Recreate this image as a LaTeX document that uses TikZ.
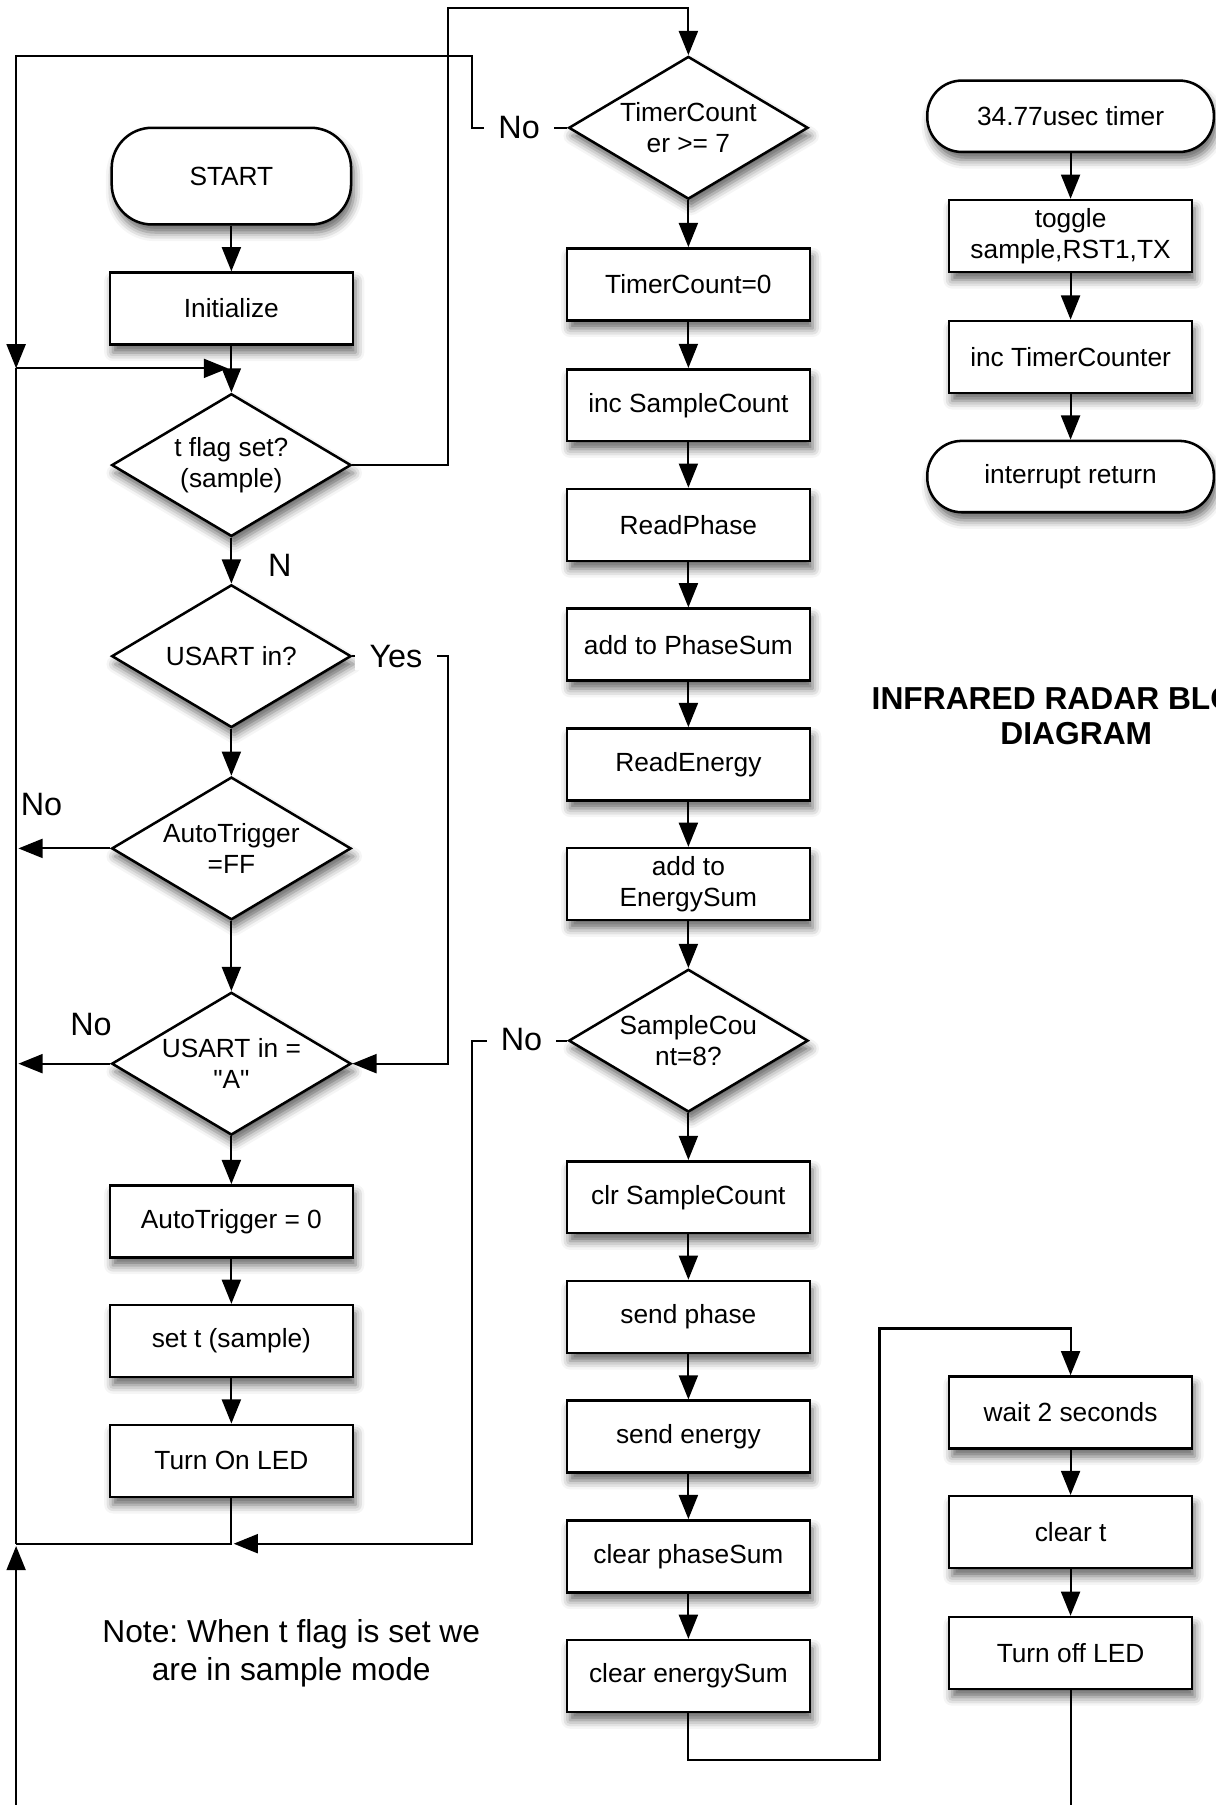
\documentclass[tikz,border=0pt]{standalone}
\usepackage{fontspec}
\setmainfont{Liberation Sans}
\usetikzlibrary{shapes.geometric,arrows.meta,shadows.blur}
\newcommand\bxfont{\fontsize{13}{15.5}\selectfont}
\newcommand\lblfont{\fontsize{16}{19}\selectfont}
\newcommand\ntfont{\fontsize{15.7}{18.8}\selectfont\frenchspacing}
\newcommand\ttlfont{\fontsize{15.7}{17.6}\selectfont\bfseries}
\begin{document}
\begin{tikzpicture}[x=0.02cm,y=-0.02cm,line width=1.05pt,>={Triangle[length=4.2mm,width=3.3mm]},
	shd/.style={blur shadow={shadow xshift=0.5mm,shadow yshift=-1.4mm,shadow blur radius=1.5mm,shadow opacity=60}},
	proc/.style={draw,line width=1.25pt,fill=white,shd,minimum width=4.22cm,minimum height=1.25cm,inner sep=0pt,align=center,font=\bxfont},
	decision/.style={diamond,draw,line width=1.25pt,fill=white,shd,aspect=1.68,minimum width=4.16cm,minimum height=2.48cm,inner sep=0pt,align=center,font=\bxfont},
	term/.style={draw,line width=1.25pt,fill=white,shd,rounded corners=0.6cm,minimum width=4.98cm,minimum height=1.24cm,font=\bxfont},
	lbl/.style={inner sep=1.5pt,font=\lblfont},
	onl/.style={lbl,fill=white,inner xsep=7pt}]
	\useasboundingbox (0,0) rectangle (1056,1568);
	\node[term,minimum width=4.16cm,minimum height=1.68cm,rounded corners=0.7cm] (start) at (201,153) {START};
	\node[proc] (init) at (201,268) {Initialize};
	\node[decision] (tflag) at (201,404) {t flag set?\\(sample)};
	\node[decision] (usart1) at (201,570) {USART in?};
	\node[decision] (atrig) at (201,737) {AutoTrigger\\=FF};
	\node[decision] (usart2) at (201,924) {USART in =\\\textquotedbl A\textquotedbl};
	\node[proc] (atzero) at (201,1061) {AutoTrigger = 0};
	\node[proc] (sett) at (201,1165) {set t (sample)};
	\node[proc] (ledon) at (201,1269) {Turn On LED};
	\node[decision] (tcnt) at (598,111) {TimerCount\\er >= 7};
	\node[proc] (tczero) at (598,247) {TimerCount=0};
	\node[proc] (incsc) at (598,352) {inc SampleCount};
	\node[proc] (readph) at (598,456) {ReadPhase};
	\node[proc] (addph) at (598,560) {add to PhaseSum};
	\node[proc] (readen) at (598,664) {ReadEnergy};
	\node[proc] (adden) at (598,768) {add to\\EnergySum};
	\node[decision] (scnt) at (598,904) {SampleCou\\nt=8?};
	\node[proc] (clrsc) at (598,1040) {clr SampleCount};
	\node[proc] (sendph) at (598,1144) {send phase};
	\node[proc] (senden) at (598,1248) {send energy};
	\node[proc] (clrph) at (598,1352) {clear phaseSum};
	\node[proc] (clren) at (598,1456) {clear energySum};
	\node[term] (timer) at (930,101) {34.77usec timer};
	\node[proc] (toggle) at (930,205) {toggle\\sample,RST1,TX};
	\node[proc] (inctc) at (930,310) {inc TimerCounter};
	\node[term] (iret) at (930,414) {interrupt return};
	\node[proc] (wait) at (930,1227) {wait 2 seconds};
	\node[proc] (clrt) at (930,1331) {clear t};
	\node[proc] (ledoff) at (930,1436) {Turn off LED};
	\node[font=\ttlfont,align=center] (title) at (935,622) {INFRARED RADAR BLOCK\\DIAGRAM};
	\node[font=\ntfont,align=center] (note) at (253,1436) {Note: When t flag is set we\\are in sample mode};
	\coordinate (tl) at (14,49);
	\coordinate (lj) at (14,320);
	\coordinate (lb) at (14,1341);
	\coordinate (lbot) at (14,1568);
	\draw[->] (start) -- (init);
	\draw[->] (init) -- (tflag);
	\draw[->] (lj) -- (198,320);
	\draw (lj) -- (lb);
	\draw[->] (lbot) -- (14,1343);
	\draw[->] (tflag.east) -| (389,7) -| (tcnt.north);
	\draw[->] (tcnt.west) -- (410,111) |- (tl) -- (lj);
	\draw[->] (tflag) -- (usart1);
	\draw[->] (usart1.east) -| (389,924) -- (usart2.east);
	\draw[->] (usart1) -- (atrig);
	\draw[->] (atrig.west) -- (16,737);
	\draw[->] (atrig) -- (usart2);
	\draw[->] (usart2.west) -- (16,924);
	\draw[->] (usart2) -- (atzero);
	\draw[->] (atzero) -- (sett);
	\draw[->] (sett) -- (ledon);
	\draw (ledon.south) -- (201,1341) -- (lb);
	\draw[->] (scnt.west) -- (410,904) |- (203,1341);
	\draw[->] (tcnt) -- (tczero);
	\draw[->] (tczero) -- (incsc);
	\draw[->] (incsc) -- (readph);
	\draw[->] (readph) -- (addph);
	\draw[->] (addph) -- (readen);
	\draw[->] (readen) -- (adden);
	\draw[->] (adden) -- (scnt);
	\draw[->] (scnt) -- (clrsc);
	\draw[->] (clrsc) -- (sendph);
	\draw[->] (sendph) -- (senden);
	\draw[->] (senden) -- (clrph);
	\draw[->] (clrph) -- (clren);
	\draw[->] (clren.south) -- (598,1529) -| (764,1154) -| (wait.north);
	\draw[->] (timer) -- (toggle);
	\draw[->] (toggle) -- (inctc);
	\draw[->] (inctc) -- (iret);
	\draw[->] (wait) -- (clrt);
	\draw[->] (clrt) -- (ledoff);
	\draw (ledoff.south) -- (930,1568);
	\node[lbl] (nlbl) at (243,491) {N};
	\node[onl] (yes) at (344,570) {Yes};
	\node[onl] (notc) at (451,111) {No};
	\node[lbl] (noat) at (36,699) {No};
	\node[lbl] (nous) at (79,890) {No};
	\node[onl] (nosc) at (453,903) {No};
\end{tikzpicture}
\end{document}
